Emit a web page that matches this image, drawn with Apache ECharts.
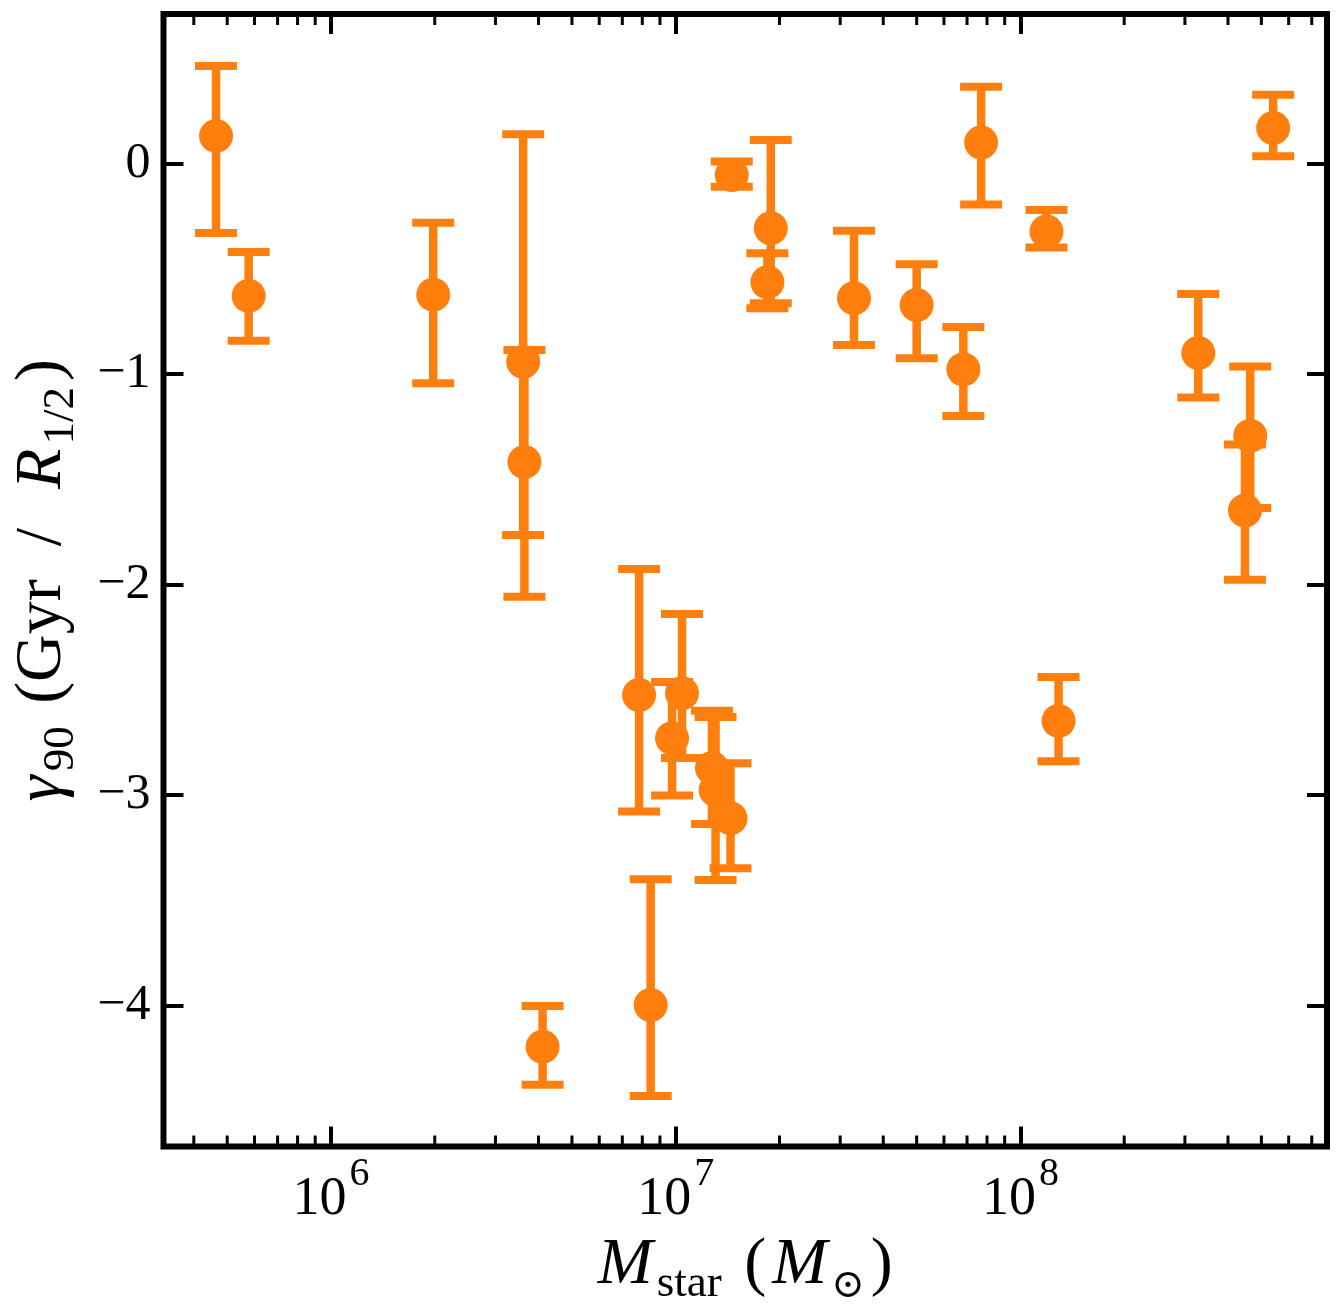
<!DOCTYPE html>
<html>
<head>
<meta charset="utf-8">
<script src="https://cdn.jsdelivr.net/npm/echarts@6/dist/echarts.min.js"></script>
<style>
html,body{margin:0;padding:0;background:#ffffff;}
#chart{width:1341px;height:1310px;}
</style>
</head>
<body>
<div id="chart"></div>
<script>
// ---- data ----
const stellarMass = [4.64e5, 5.77e5, 1.98e6, 3.61e6, 3.64e6, 4.11e6, 7.83e6, 8.46e6, 9.76e6, 1.043e7,
  1.274e7, 1.305e7, 1.442e7, 1.454e7, 1.887e7, 1.845e7, 3.29e7, 5.00e7, 6.83e7, 7.69e7,
  1.19e8, 1.29e8, 3.28e8, 4.64e8, 4.48e8, 5.41e8];
const gamma90 = [0.131, -0.629, -0.623, -0.942, -1.418, -4.196, -2.525, -3.998, -2.731, -2.517,
  -2.872, -2.976, -3.111, -0.055, -0.308, -0.564, -0.640, -0.672, -0.978, 0.100,
  -0.323, -2.648, -0.900, -1.294, -1.649, 0.169];
const gamma90Upper = [0.463, -0.420, -0.281, 0.139, -0.886, -4.002, -1.926, -3.400, -2.463, -2.140,
  -2.600, -2.629, -2.849, 0.009, 0.112, -0.427, -0.319, -0.479, -0.777, 0.364,
  -0.221, -2.440, -0.620, -0.964, -1.335, 0.327];
const gamma90Lower = [-0.330, -0.842, -1.044, -1.765, -2.058, -4.377, -3.079, -4.430, -3.003, -2.824,
  -3.138, -3.404, -3.348, -0.110, -0.664, -0.688, -0.862, -0.925, -1.200, -0.195,
  -0.399, -2.840, -1.112, -1.637, -1.977, 0.034];
const xRange = [3.267e5, 7.75e8];
const yRange = [-4.670, 0.7102];
const minorTickMantissas = [2, 3, 4, 5, 6, 7, 8, 9];
const minorTickDecades = [5, 6, 7, 8];

// ---- build option ----
const COLOR = '#ff7f0e';
const SERIF = '"Liberation Serif", "DejaVu Serif", serif';

const points = stellarMass.map((m, i) => [m, gamma90[i], gamma90Lower[i], gamma90Upper[i]]);
const minorTicks = [];
minorTickDecades.forEach(d => minorTickMantissas.forEach(m => {
  const v = m * Math.pow(10, d);
  if (v > xRange[0] && v < xRange[1]) minorTicks.push([v, 0]);
}));

function logLabel(v) {
  const e = Math.log10(v);
  const r = Math.round(e);
  if (Math.abs(e - r) > 1e-6) return '';
  return '{b|10}{s|' + r + '}';
}
function yLabel(v) {
  if (Math.abs(v - Math.round(v)) > 1e-6) return '';
  const r = Math.round(v);
  return r < 0 ? '\u2212' + Math.abs(r) : String(r);
}

const tickStyle = { show: true, inside: true, length: 20, lineStyle: { color: '#000', width: 4 } };
const noLine = { show: false, onZero: false };

const titleRich = {
  i: { fontFamily: SERIF, fontStyle: 'italic', fontSize: 66, lineHeight: 82, color: '#000', padding: [0, 3, 0, 3] },
  n: { fontFamily: SERIF, fontSize: 66, lineHeight: 82, color: '#000', padding: [0, 3, 0, 3] },
  sub: { fontFamily: SERIF, fontSize: 45, lineHeight: 50, verticalAlign: 'bottom', color: '#000', padding: [0, 3, 0, 1] },
  sub2: { fontFamily: '"DejaVu Serif", serif', fontSize: 40, lineHeight: 46, verticalAlign: 'bottom', color: '#000', padding: [0, 3, 0, 1] }
};

const option = {
  backgroundColor: '#ffffff',
  animation: false,
  grid: {
    left: 163.5, right: 14, top: 14, bottom: 163.5,
    outerBoundsMode: 'none', containLabel: false,
    show: true, borderColor: '#000', borderWidth: 6, backgroundColor: 'transparent'
  },
  xAxis: [
    {
      type: 'log', logBase: 10, min: xRange[0], max: xRange[1], position: 'bottom',
      axisLine: noLine, axisTick: tickStyle, splitLine: { show: false },
      axisLabel: {
        show: true, margin: 8, showMinLabel: false, showMaxLabel: false, formatter: logLabel, color: '#000',
        rich: {
          b: { fontFamily: SERIF, fontSize: 54, lineHeight: 72, verticalAlign: 'bottom', color: '#000' },
          s: { fontFamily: SERIF, fontSize: 40, lineHeight: 40, verticalAlign: 'top', color: '#000', padding: [0, 0, 0, 3] }
        }
      },
      name: '{i|M}{sub|star}{n| (}{i|M}{sub2|\u2299}{n|)}',
      nameLocation: 'middle', nameGap: 78,
      nameTextStyle: { color: '#000', rich: titleRich }
    },
    {
      type: 'log', logBase: 10, min: xRange[0], max: xRange[1], position: 'top',
      axisLine: noLine, axisTick: tickStyle, splitLine: { show: false }, axisLabel: { show: false }
    }
  ],
  yAxis: [
    {
      type: 'value', min: yRange[0], max: yRange[1], position: 'left',
      axisLine: noLine, axisTick: tickStyle, splitLine: { show: false },
      axisLabel: { show: true, margin: 13, showMinLabel: false, showMaxLabel: false, formatter: yLabel, color: '#000', fontFamily: SERIF, fontSize: 50 },
      name: '{i|\u03b3}{sub|90}{n| (Gyr  /  }{i|R}{sub|1/2}{n|)}',
      nameLocation: 'middle', nameGap: 80, nameRotate: 90,
      nameTextStyle: { color: '#000', rich: titleRich }
    },
    {
      type: 'value', min: yRange[0], max: yRange[1], position: 'right',
      axisLine: noLine, axisTick: tickStyle, splitLine: { show: false }, axisLabel: { show: false }
    }
  ],
  series: [
    {
      type: 'custom', name: 'minorTicks', xAxisIndex: 0, yAxisIndex: 0, silent: true, z: 3,
      data: minorTicks,
      renderItem: function (params, api) {
        const p = api.coord([api.value(0), api.value(1)]);
        const cs = params.coordSys;
        const st = { stroke: '#000', lineWidth: 3 };
        return {
          type: 'group',
          children: [
            { type: 'line', shape: { x1: p[0], y1: cs.y + cs.height, x2: p[0], y2: cs.y + cs.height - 11 }, style: st },
            { type: 'line', shape: { x1: p[0], y1: cs.y, x2: p[0], y2: cs.y + 11 }, style: st }
          ]
        };
      }
    },
    {
      type: 'custom', name: 'gamma90', xAxisIndex: 0, yAxisIndex: 0, z: 4,
      data: points,
      renderItem: function (params, api) {
        const c = api.coord([api.value(0), api.value(1)]);
        const lo = api.coord([api.value(0), api.value(2)]);
        const hi = api.coord([api.value(0), api.value(3)]);
        const capW = 42, capH = 8;
        const fill = { fill: COLOR };
        return {
          type: 'group',
          children: [
            { type: 'line', shape: { x1: c[0], y1: hi[1], x2: c[0], y2: lo[1] }, style: { stroke: COLOR, lineWidth: 8.5 } },
            { type: 'rect', shape: { x: c[0] - capW / 2, y: hi[1] - capH / 2, width: capW, height: capH }, style: fill },
            { type: 'rect', shape: { x: c[0] - capW / 2, y: lo[1] - capH / 2, width: capW, height: capH }, style: fill },
            { type: 'circle', shape: { cx: c[0], cy: c[1], r: 17 }, style: fill }
          ]
        };
      }
    }
  ]
};

const chart = echarts.init(document.getElementById('chart'), null, { renderer: 'canvas' });
chart.setOption(option);
</script>
</body>
</html>
